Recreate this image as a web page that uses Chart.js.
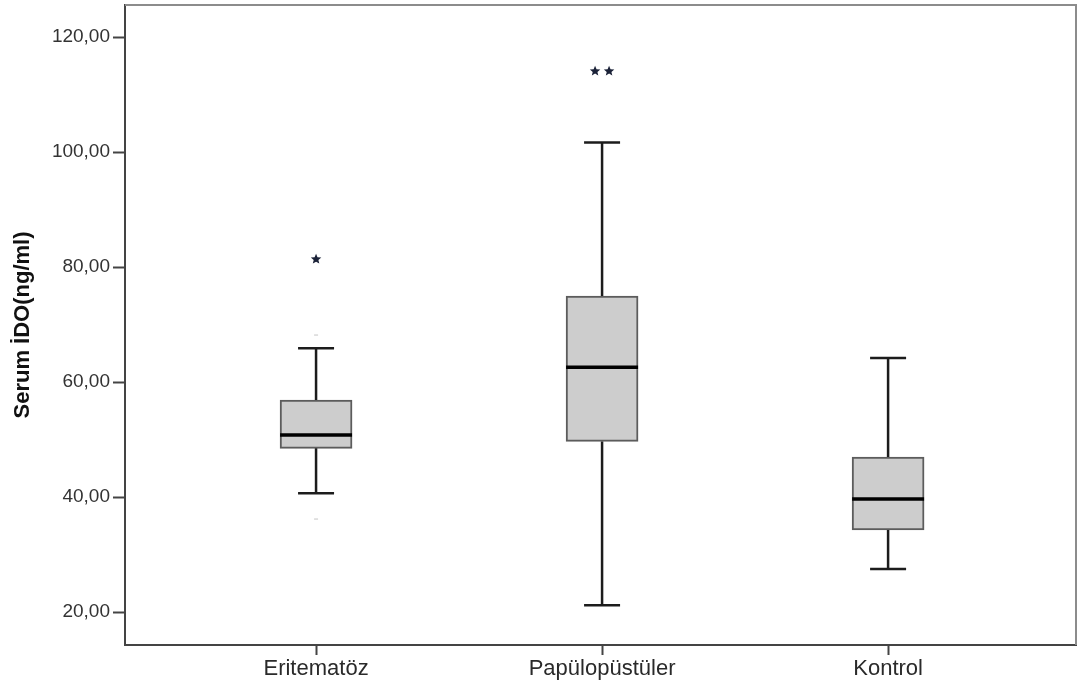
<!DOCTYPE html>
<html>
<head>
<meta charset="utf-8">
<title>Serum İDO</title>
<script src="https://cdn.jsdelivr.net/npm/chart.js@4.4.1/dist/chart.umd.min.js"></script>
<style>
    html, body { margin: 0; padding: 0; background: #fff; }
    #boxWrap { width: 1081px; height: 686px; }
</style>
</head>
<body>
<div id="boxWrap"><canvas id="serumIdo"></canvas></div>
<script>
var Groups = ["Eritematöz", "Papülopüstüler", "Kontrol"];
var WhiskerLow = [40.7, 21.2, 27.5];
var Q1 = [48.5, 49.7, 34.3];
var Median = [50.8, 62.6, 39.7];
var Q3 = [56.9, 75.0, 47.0];
var WhiskerHigh = [65.9, 101.7, 64.2];
// extreme values (stars)
var ExtremeGroup = [0, 1, 1];
var ExtremeValue = [81.4, 114.1, 114.1];
// mild outliers, drawn very faint
var MildGroup = [0, 0];
var MildValue = [68.2, 36.2];
var YTicks = [20, 40, 60, 80, 100, 120];

var FontFamily = "'Liberation Sans', Arial, sans-serif";

function DrawStar(ctx, x, y, r) {
    ctx.beginPath();
    for (var k = 0; k < 10; k++) {
        var rad = (k % 2 == 0) ? r : r * 0.45;
        var a = -Math.PI / 2 + k * Math.PI / 5;
        if (k == 0) ctx.moveTo(x + rad * Math.cos(a), y + rad * Math.sin(a));
        else ctx.lineTo(x + rad * Math.cos(a), y + rad * Math.sin(a));
    }
    ctx.closePath();
    ctx.fill();
}

var boxPlotParts = {
    id: 'boxPlotParts',
    afterDatasetsDraw: function (chart) {
        var ctx = chart.ctx;
        var xs = chart.scales.x, ys = chart.scales.y;
        var bars = chart.getDatasetMeta(0).data;
        ctx.save();
        ctx.lineCap = 'butt';
        for (var i = 0; i < Groups.length; i++) {
            var cx = xs.getPixelForValue(i);
            var half = bars[i].width / 2;
            var capHalf = half / 2;
            ctx.strokeStyle = '#1c1c1c';
            ctx.lineWidth = 2.5;
            // whisker stems
            ctx.beginPath();
            ctx.moveTo(cx, ys.getPixelForValue(Q3[i]));
            ctx.lineTo(cx, ys.getPixelForValue(WhiskerHigh[i]));
            ctx.moveTo(cx, ys.getPixelForValue(Q1[i]));
            ctx.lineTo(cx, ys.getPixelForValue(WhiskerLow[i]));
            ctx.stroke();
            // caps
            ctx.beginPath();
            ctx.moveTo(cx - capHalf, ys.getPixelForValue(WhiskerHigh[i]));
            ctx.lineTo(cx + capHalf, ys.getPixelForValue(WhiskerHigh[i]));
            ctx.moveTo(cx - capHalf, ys.getPixelForValue(WhiskerLow[i]));
            ctx.lineTo(cx + capHalf, ys.getPixelForValue(WhiskerLow[i]));
            ctx.stroke();
            // median
            ctx.strokeStyle = '#000';
            ctx.lineWidth = 3.5;
            ctx.beginPath();
            ctx.moveTo(cx - half, ys.getPixelForValue(Median[i]));
            ctx.lineTo(cx + half, ys.getPixelForValue(Median[i]));
            ctx.stroke();
        }
        // mild outliers
        ctx.strokeStyle = '#d8d8d8';
        ctx.lineWidth = 1.5;
        for (var m = 0; m < MildValue.length; m++) {
            var mx = xs.getPixelForValue(MildGroup[m]);
            var my = ys.getPixelForValue(MildValue[m]);
            ctx.beginPath();
            ctx.moveTo(mx - 2, my);
            ctx.lineTo(mx + 2, my);
            ctx.stroke();
        }
        // extremes, same-value points are spread sideways
        ctx.fillStyle = '#1b2238';
        for (var e = 0; e < ExtremeValue.length; e++) {
            var same = [], pos = 0;
            for (var j = 0; j < ExtremeValue.length; j++) {
                if (ExtremeGroup[j] == ExtremeGroup[e] && ExtremeValue[j] == ExtremeValue[e]) {
                    if (j == e) pos = same.length;
                    same.push(j);
                }
            }
            var ex = xs.getPixelForValue(ExtremeGroup[e]) + (pos - (same.length - 1) / 2) * 14;
            DrawStar(ctx, ex, ys.getPixelForValue(ExtremeValue[e]), 5.5);
        }
        // top and right frame
        var area = chart.chartArea;
        ctx.strokeStyle = '#8c8c8c';
        ctx.lineWidth = 2;
        ctx.beginPath();
        ctx.moveTo(area.left, area.top);
        ctx.lineTo(area.right, area.top);
        ctx.lineTo(area.right, area.bottom);
        ctx.stroke();
        ctx.restore();
    }
};

function BindBoxPlot() {
    var boxData = [];
    for (var i = 0; i < Groups.length; i++) {
        boxData.push({ x: i, y: [Q1[i], Q3[i]] });
    }
    new Chart(document.getElementById("serumIdo"), {
        type: 'bar',
        plugins: [boxPlotParts],
        data: {
            datasets: [
                {
                    data: boxData,
                    backgroundColor: '#cdcdcd',
                    borderColor: '#5c5c5c',
                    borderWidth: 2,
                    borderSkipped: false,
                    barThickness: 72
                }
            ]
        },
        options: {
            responsive: true,
            maintainAspectRatio: false,
            animation: false,
            layout: { padding: { top: 5, right: 5, left: 0, bottom: 0 } },
            plugins: {
                legend: { display: false },
                tooltip: { enabled: false }
            },
            scales: {
                x: {
                    type: 'linear',
                    min: -0.668,
                    max: 2.657,
                    offset: false,
                    afterBuildTicks: function (scale) {
                        scale.ticks = Groups.map(function (g, i) { return { value: i }; });
                    },
                    afterFit: function (scale) {
                        scale.height = 41;
                        scale.paddingLeft = 0;
                        scale.paddingRight = 0;
                    },
                    grid: { offset: false, drawOnChartArea: false, tickLength: 10, tickColor: '#444', tickWidth: 2 },
                    border: { color: '#444', width: 2 },
                    ticks: {
                        color: '#2a2a2a',
                        padding: 1,
                        maxRotation: 0,
                        font: { family: FontFamily, size: 22 },
                        callback: function (v) { return Groups[v]; }
                    }
                },
                y: {
                    min: 14.3,
                    max: 125.6,
                    afterBuildTicks: function (scale) {
                        scale.ticks = YTicks.map(function (v) { return { value: v }; });
                    },
                    afterFit: function (scale) {
                        scale.width = 125;
                        scale.paddingTop = 0;
                        scale.paddingBottom = 0;
                    },
                    grid: { drawOnChartArea: false, tickLength: 12, tickColor: '#444', tickWidth: 2 },
                    border: { color: '#444', width: 2 },
                    ticks: {
                        color: '#333',
                        padding: 3,
                        font: { family: FontFamily, size: 19 },
                        callback: function (v) { return v.toFixed(2).replace('.', ','); }
                    },
                    title: {
                        display: true,
                        text: 'Serum İDO(ng/ml)',
                        color: '#111',
                        padding: { top: 10, bottom: 0 },
                        font: { family: FontFamily, size: 22, weight: 'bold' }
                    }
                }
            }
        }
    });
}

document.addEventListener('DOMContentLoaded', BindBoxPlot);
</script>
</body>
</html>
